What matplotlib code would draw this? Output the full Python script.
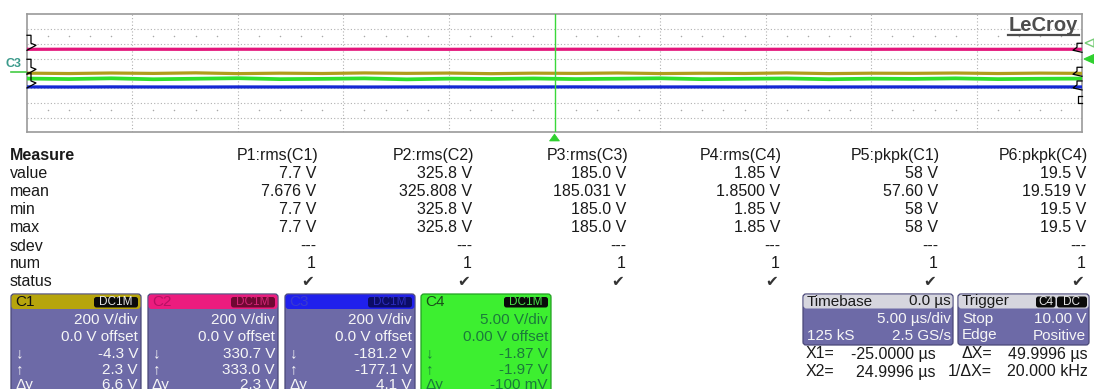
import matplotlib
matplotlib.use("Agg")
import matplotlib.pyplot as plt
from matplotlib.patches import FancyBboxPatch, Polygon

plt.rcParams['font.family'] = ['Liberation Sans', 'DejaVu Sans']

# ---------------- data ----------------
time_us = [-25, -23, -21, -19, -17, -15, -13, -11, -9, -7, -5, -3, -1,
           1, 3, 5, 7, 9, 11, 13, 15, 17, 19, 21, 23, 25]
c1_volts = [2.3, -3.1, 4.0, -1.5, 6.2, -4.3, 1.8, -2.6, 5.1, -0.8, 3.3, -5.0, 2.0,
            -1.2, 4.6, -3.4, 0.9, -2.2, 5.5, -4.1, 1.4, -0.6, 3.8, -2.9, 2.6, -1.0]
c2_volts = [325.2, 326.4, 325.6, 326.1, 325.0, 326.3, 325.7, 325.3, 326.6, 325.8, 325.1, 326.0, 325.5,
            326.2, 325.4, 325.9, 326.5, 325.2, 325.8, 326.1, 325.3, 326.4, 325.6, 325.0, 326.2, 325.8]
c3_volts = [-184.6, -185.8, -184.2, -185.3, -186.0, -184.9, -185.5, -184.4, -185.9, -185.1, -184.7, -185.6, -185.0,
            -184.3, -185.7, -185.2, -184.8, -186.1, -184.5, -185.4, -185.0, -184.6, -185.8, -185.3, -184.9, -185.2]
c4_volts = [-1.78, -1.95, -1.70, -2.02, -1.84, -1.66, -1.98, -1.88, -1.72, -2.05, -1.80, -1.92, -1.75,
            -1.96, -1.83, -1.69, -1.99, -1.86, -1.74, -2.01, -1.82, -1.90, -1.71, -1.97, -1.85, -1.79]

channels = ['C1', 'C2', 'C3', 'C4']
volts_per_div = [200.0, 200.0, 200.0, 5.0]
offset_volts = [0.0, 0.0, 0.0, 0.0]
trace_colors = ['#b09d1c', '#e3167b', '#1428d4', '#30e02c']

meas_rows = ['value', 'mean', 'min', 'max', 'sdev', 'num', 'status']
meas_params = ['P1:rms(C1)', 'P2:rms(C2)', 'P3:rms(C3)', 'P4:rms(C4)', 'P5:pkpk(C1)', 'P6:pkpk(C4)']
meas_value = ['7.7 V', '325.8 V', '185.0 V', '1.85 V', '58 V', '19.5 V']
meas_mean = ['7.676 V', '325.808 V', '185.031 V', '1.8500 V', '57.60 V', '19.519 V']
meas_min = ['7.7 V', '325.8 V', '185.0 V', '1.85 V', '58 V', '19.5 V']
meas_max = ['7.7 V', '325.8 V', '185.0 V', '1.85 V', '58 V', '19.5 V']
meas_sdev = ['---', '---', '---', '---', '---', '---']
meas_num = ['1', '1', '1', '1', '1', '1']
meas_status = ['\u2714', '\u2714', '\u2714', '\u2714', '\u2714', '\u2714']

ch_vdiv_text = ['200 V/div', '200 V/div', '200 V/div', '5.00 V/div']
ch_offset_text = ['0.0 V offset', '0.0 V offset', '0.0 V offset', '0.00 V offset']
ch_cursor_down = ['-4.3 V', '330.7 V', '-181.2 V', '-1.87 V']
ch_cursor_up = ['2.3 V', '333.0 V', '-177.1 V', '-1.97 V']
ch_cursor_dy = ['6.6 V', '2.3 V', '4.1 V', '-100 mV']

timebase_delay = '0.0 \u00b5s'
timebase_div = '5.00 \u00b5s/div'
timebase_samples = '125 kS'
timebase_rate = '2.5 GS/s'
trigger_mode = 'Stop'
trigger_level = '10.00 V'
trigger_type = 'Edge'
trigger_slope = 'Positive'
cursor_x1 = '-25.0000 \u00b5s'
cursor_x2 = '24.9996 \u00b5s'
cursor_dx = '49.9996 \u00b5s'
cursor_inv_dx = '20.000 kHz'

# ---------------- figure ----------------
W, H, DPI = 1094, 389, 100
fig = plt.figure(figsize=(W / DPI, H / DPI), dpi=DPI)
fig.patch.set_facecolor('white')

# scope graticule area (pixel box)
L, R, T, B = 26.7, 1082.3, 14.3, 132.3
sc = fig.add_axes([L / W, 1 - B / H, (R - L) / W, (B - T) / H])
sc.set_xlim(-25, 25)
sc.set_ylim(-4, 4)
sc.set_xticks([])
sc.set_yticks([])
for s in sc.spines.values():
    s.set_color('#9a9a9a')
    s.set_linewidth(1.2)

grid_kw = dict(color='#b0b0b0', lw=0.8, ls=(0, (1, 2)), zorder=1)
for gx in [-20, -15, -10, -5, 5, 10, 15, 20]:
    sc.axvline(gx, **grid_kw)
for gy in [-3, -2, -1, 0, 1, 2, 3]:
    sc.axhline(gy, **grid_kw)
minor_x = [t for t in range(-25, 26) if t % 5 != 0]
for ry in [2.5, -2.5]:
    sc.scatter(minor_x, [ry] * len(minor_x), s=1.2, color='#a8a8a8', zorder=1, linewidths=0)

# trigger / centre cursor
sc.axvline(0, color='#3ad83a', lw=1.0, zorder=6)

all_traces = [c1_volts, c2_volts, c3_volts, c4_volts]
draw_order = [1, 0, 3, 2]
for i in draw_order:
    div = [(v - offset_volts[i]) / volts_per_div[i] for v in all_traces[i]]
    sc.plot(time_us, div, color=trace_colors[i], lw=2.7 if i == 3 else 2.3,
            solid_capstyle='butt', zorder=3 + i * 0.1)

# ---------------- overlay (pixel coordinates) ----------------
ov = fig.add_axes([0, 0, 1, 1])
ov.set_xlim(0, W)
ov.set_ylim(H, 0)
ov.axis('off')


def txt(x, y, s, size=12, ha='left', color='#1a1a1a', weight='normal'):
    ov.text(x, y, s, fontsize=size, ha=ha, va='center', color=color,
            fontweight=weight)


def rbox(x0, y0, w, h, fc, ec='none', lw=0.8, r=3, z=2):
    ov.add_patch(FancyBboxPatch((x0, y0), w, h,
                                boxstyle=f'round,pad=0,rounding_size={r}',
                                fc=fc, ec=ec, lw=lw, zorder=z))


# LeCroy logo
txt(1043, 25, 'LeCroy', size=14.5, ha='center', color='#4d4d4d', weight='bold')
ov.plot([1008, 1079], [34.5, 34.5], color='#4d4d4d', lw=1.6)

# level markers (zig-zags) on left and right edges
trace_px = {}
for i in range(4):
    lvl = (offset_volts[i] + sum(all_traces[i]) / len(all_traces[i])) / volts_per_div[i]
    trace_px[i] = 73.3 - lvl * 14.75
for i in [1, 0, 2]:
    y = trace_px[i]
    ov.plot([27, 31, 31, 36, 27], [y - 14, y - 14, y - 6, y - 4, y + 1], color='black', lw=0.9)
    ov.plot([1082, 1077, 1077, 1073, 1082], [y - 6, y - 6, y - 2, y + 1, y + 3],
            color='black', lw=0.9)
ov.plot([1082, 1078, 1078, 1082], [96, 96, 103, 103], color='black', lw=0.9)

txt(14, 64, 'C3', size=9, ha='center', color='#3b9a8b', weight='bold')
ov.plot([11, 26], [72, 72], color='#44cc44', lw=1.2)

# trigger markers
ov.add_patch(Polygon([[1085, 43], [1094, 39], [1094, 47]], closed=True,
                     fc='white', ec='#77cc77', lw=1.0))
ov.add_patch(Polygon([[1084, 59], [1094, 54.5], [1094, 63.5]], closed=True,
                     fc='#2fd02f', ec='#2fd02f', lw=0.8))
ov.add_patch(Polygon([[554.5, 134], [549.5, 141], [559.5, 141]], closed=True,
                     fc='#2fd02f', ec='#2fd02f', lw=0.5))

# ---------------- measurement table ----------------
col_right = [318, 474, 628, 782, 940, 1088]
row_y = [173, 191, 209, 227, 246, 264, 282]
txt(10, 155, 'Measure', size=11.5, weight='bold')
for name, y in zip(meas_rows, row_y):
    txt(10, y, name, size=11.5)
table_cols = [meas_value, meas_mean, meas_min, meas_max, meas_sdev, meas_num]
for j, xr in enumerate(col_right):
    txt(xr, 155, meas_params[j], size=11.5, ha='right')
    for k, col in enumerate(table_cols):
        txt(xr - 2, row_y[k], col[j], size=11.5, ha='right')
    txt(xr - 4, row_y[6], meas_status[j], size=11, ha='right', color='#333333')

# ---------------- channel boxes ----------------
box_x = [11, 148, 285, 421]
box_w = 130
body_fc = ['#6d6aa7', '#6d6aa7', '#6d6aa7', '#3def30']
head_fc = ['#b7a50c', '#ec1c7e', '#2020ec', '#3def30']
head_txt = ['#111111', '#b81064', '#3a3ad0', '#1a4d1a']
dc_fc = ['#0a0a0a', '#6e0832', '#0c0c66', '#0a0a0a']
dc_txt = ['#e6e6e6', '#d42577', '#2c2cc0', '#48e048']
body_txt = ['#f6f6f6', '#f6f6f6', '#f6f6f6', '#1b7a3b']
edge_c = ['#4a4878', '#4a4878', '#4a4878', '#22a022']
for i in range(4):
    x0 = box_x[i]
    xr = x0 + box_w - 3
    rbox(x0, 294, box_w, 110, body_fc[i], ec=edge_c[i], lw=0.9)
    if i < 3:
        rbox(x0 + 0.5, 294.5, box_w - 1, 14.5, head_fc[i], r=3, z=2.5)
    txt(x0 + 4, 302, channels[i], size=11, color=head_txt[i])
    rbox(x0 + box_w - 47, 297, 44, 10.5, dc_fc[i], r=2.5, z=3)
    txt(x0 + box_w - 25, 302.3, 'DC1M', size=8.5, ha='center', color=dc_txt[i])
    txt(xr, 320, ch_vdiv_text[i], size=11, ha='right', color=body_txt[i])
    txt(xr, 337, ch_offset_text[i], size=11, ha='right', color=body_txt[i])
    txt(xr, 353.5, ch_cursor_down[i], size=11, ha='right', color=body_txt[i])
    txt(xr, 369.5, ch_cursor_up[i], size=11, ha='right', color=body_txt[i])
    txt(xr, 385, ch_cursor_dy[i], size=11, ha='right', color=body_txt[i])
    txt(x0 + 5, 353.5, '\u2193', size=11, color=body_txt[i])
    txt(x0 + 5, 369.5, '\u2191', size=11, color=body_txt[i])
    txt(x0 + 4, 385, '\u0394y', size=11, color=body_txt[i])

# ---------------- timebase / trigger ----------------
rbox(803, 294, 150, 51, '#6d6aa7', ec='#4a4878', lw=0.9)
rbox(803.5, 294.5, 149, 14, '#d6d6de', r=3, z=2.5)
txt(807, 301.5, 'Timebase', size=11)
txt(951, 301.5, timebase_delay, size=11, ha='right')
txt(951, 319, timebase_div, size=11, ha='right', color='#f6f6f6')
txt(807, 335.5, timebase_samples, size=11, color='#f6f6f6')
txt(951, 335.5, timebase_rate, size=11, ha='right', color='#f6f6f6')

rbox(958, 294, 131, 51, '#6d6aa7', ec='#4a4878', lw=0.9)
rbox(958.5, 294.5, 130, 14, '#d6d6de', r=3, z=2.5)
txt(962, 301.5, 'Trigger', size=11)
rbox(1036, 296.5, 19.5, 11, '#0a0a0a', r=2.5, z=3)
txt(1045.7, 302, 'C4', size=8.5, ha='center', color='#e6e6e6')
rbox(1057, 296.5, 30, 11, '#0a0a0a', r=2.5, z=3)
txt(1072, 302, 'DC', size=8.5, ha='center', color='#e6e6e6')
txt(962, 319, trigger_mode, size=11, color='#f6f6f6')
txt(1086, 319, trigger_level, size=11, ha='right', color='#f6f6f6')
txt(962, 335.5, trigger_type, size=11, color='#f6f6f6')
txt(1086, 335.5, trigger_slope, size=11, ha='right', color='#f6f6f6')

txt(806, 354, 'X1=', size=11.5)
txt(936, 354, cursor_x1, size=11.5, ha='right')
txt(806, 372, 'X2=', size=11.5)
txt(936, 372, cursor_x2, size=11.5, ha='right')
txt(992, 354, '\u0394X=', size=11.5, ha='right')
txt(1088, 354, cursor_dx, size=11.5, ha='right')
txt(992, 372, '1/\u0394X=', size=11.5, ha='right')
txt(1088, 372, cursor_inv_dx, size=11.5, ha='right')

fig.savefig('out.png', dpi=DPI, facecolor='white')
